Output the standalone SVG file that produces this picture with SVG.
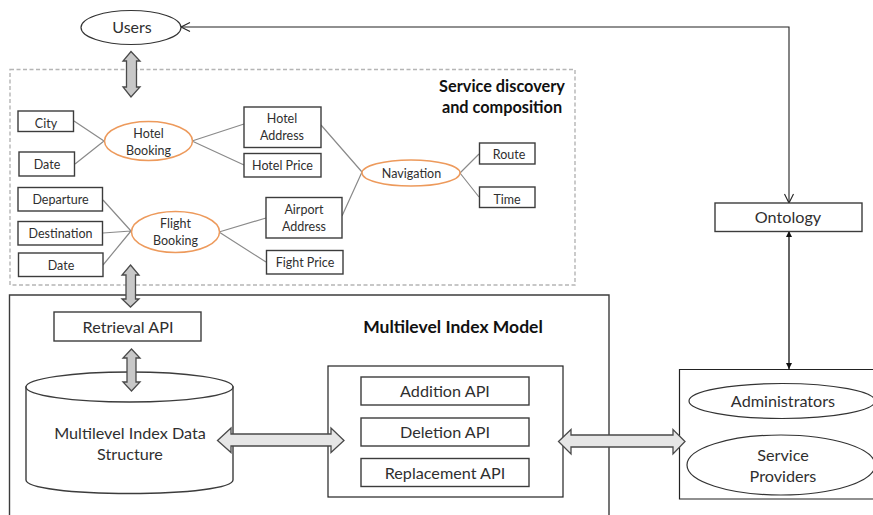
<svg xmlns="http://www.w3.org/2000/svg" width="873" height="515" viewBox="0 0 873 515">
<defs>
<style>
text{font-family:"Lato","Open Sans","Liberation Sans",sans-serif;fill:#2f2f2f;text-anchor:middle}
.s{font-size:12.5px}
.m{font-size:16.2px}
.b{font-size:16.300px;font-weight:700;fill:#111}
.box{fill:#fff;stroke:#3c3c3c;stroke-width:1.4}
.thin{fill:#fff;stroke:#333;stroke-width:1.2}
.or{fill:#fff;stroke:#ed9a5c;stroke-width:1.5}
.ln{stroke:#8a8a8a;stroke-width:1.2;fill:none}
.dark{stroke:#222;stroke-width:1.1;fill:none}
.ga{fill:#c8c8c8;stroke:#4a4a4a;stroke-width:1.3;stroke-linejoin:miter}
.ha{fill:#e6e6e6;stroke:#4a4a4a;stroke-width:1.3}
</style>
<marker id="open" markerWidth="12" markerHeight="12" refX="10" refY="5" orient="auto-start-reverse" markerUnits="userSpaceOnUse"><path d="M1,0.5 L10,5 L1,9.500" fill="none" stroke="#222" stroke-width="1.1"/></marker>
<marker id="solid" markerWidth="8" markerHeight="8" refX="6" refY="3" orient="auto-start-reverse" markerUnits="userSpaceOnUse"><path d="M0,0 L6,3 L0,6 Z" fill="#111"/></marker>
</defs>
<rect width="873" height="515" fill="#fff"/>

<g id="service-discovery">
<rect x="10" y="69.500" width="565" height="215.500" fill="#fff" stroke="#b5b5b5" stroke-width="1.4" stroke-dasharray="4 2.500"/>
<text class="b"><tspan x="502" y="91.500">Service discovery</tspan><tspan x="502" y="112.500">and composition</tspan></text>
</g>

<g id="multilevel-index-model">
<path d="M9.500,520 V295 H609 V520" fill="#fff" stroke="#3c3c3c" stroke-width="1.4"/>
<text class="b" x="453" y="333" style="font-size:17.500px">Multilevel Index Model</text>
</g>

<g id="connectors">
<path class="ln" d="M74,121 L104,141 M75,164 L104,141 M192,141 L244,124 M192,141 L244,165 M103,200 L131,231 M103,233 L131,231 M103,265 L131,231 M219,232 L266,218 M219,232 L266,262 M321,125 L362,172 M342,216 L362,172 M460,173 L479,154 M460,173 L479,197"/>
<path class="dark" d="M789,203 V27 H181" marker-start="url(#open)" marker-end="url(#open)"/>
<path d="M789,231 V369" fill="none" stroke="#111" stroke-width="1.3" marker-start="url(#solid)" marker-end="url(#solid)"/>
</g>

<g id="users"><ellipse class="thin" cx="131" cy="27.500" rx="50" ry="17"/><text x="132" y="32.500" font-size="16">Users</text></g>
<g id="city"><rect class="box" x="18" y="111" width="55.500" height="20.500"/><text class="s" x="46" y="128">City</text></g>
<g id="date-hotel"><rect class="box" x="19" y="152" width="55.500" height="24"/><text class="s" x="47" y="169">Date</text></g>
<g id="hotel-booking"><ellipse class="or" cx="148.500" cy="141" rx="44" ry="19.500"/><text class="s"><tspan x="148.500" y="138">Hotel</tspan><tspan x="148.500" y="155">Booking</tspan></text></g>
<g id="hotel-address"><rect class="box" x="244" y="107" width="77" height="40.500"/><text class="s"><tspan x="282" y="123">Hotel</tspan><tspan x="282" y="140">Address</tspan></text></g>
<g id="hotel-price"><rect class="box" x="244" y="153.500" width="77" height="23.500"/><text class="s" x="282.500" y="170">Hotel Price</text></g>
<g id="departure"><rect class="box" x="18" y="187.500" width="84.500" height="23.500"/><text class="s" x="60.500" y="204">Departure</text></g>
<g id="destination"><rect class="box" x="18" y="221.500" width="84.500" height="23.500"/><text class="s" x="60.500" y="238">Destination</text></g>
<g id="date-flight"><rect class="box" x="18.500" y="253" width="84.500" height="23.500"/><text class="s" x="61" y="270">Date</text></g>
<g id="flight-booking"><ellipse class="or" cx="175.500" cy="232" rx="44" ry="20.500"/><text class="s"><tspan x="175.500" y="228">Flight</tspan><tspan x="175.500" y="245">Booking</tspan></text></g>
<g id="airport-address"><rect class="box" x="266" y="197.500" width="76" height="40.500"/><text class="s"><tspan x="304" y="214">Airport</tspan><tspan x="304" y="231">Address</tspan></text></g>
<g id="fight-price"><rect class="box" x="266.500" y="250.500" width="76.500" height="23.500"/><text class="s" x="305" y="267">Fight Price</text></g>
<g id="navigation"><ellipse class="or" cx="411" cy="173" rx="49" ry="13"/><text class="s" x="411.500" y="178">Navigation</text></g>
<g id="route"><rect class="box" x="479.500" y="143" width="55.500" height="21"/><text class="s" x="509" y="159">Route</text></g>
<g id="time"><rect class="box" x="479.500" y="187" width="55.500" height="20.500"/><text class="s" x="507" y="204">Time</text></g>

<g id="retrieval-api"><rect class="box" x="54" y="312" width="147" height="29"/><text class="m" x="128" y="332.500">Retrieval API</text></g>
<g id="data-structure">
<path d="M26,387 V480 C26,488 72,493.500 129.500,493.500 C187,493.500 233,488 233,480 V387 Z" class="box"/>
<ellipse class="box" cx="129.500" cy="387" rx="103.500" ry="15"/>
<text class="m"><tspan x="130" y="439">Multilevel Index Data</tspan><tspan x="130" y="460">Structure</tspan></text>
</g>
<g id="api-group">
<rect x="328" y="366" width="235" height="131" fill="#fff" stroke="#222" stroke-width="1.2"/>
<g id="addition-api"><rect class="box" x="361" y="377" width="168" height="28"/><text class="m" x="445" y="397">Addition API</text></g>
<g id="deletion-api"><rect class="box" x="361" y="418" width="168" height="28"/><text class="m" x="445" y="438">Deletion API</text></g>
<g id="replacement-api"><rect class="box" x="361" y="458.500" width="168" height="28"/><text class="m" x="445" y="478.500">Replacement API</text></g>
</g>
<g id="ontology"><rect class="box" x="715" y="203" width="147" height="28.500"/><text class="m" x="788" y="223">Ontology</text></g>
<g id="stakeholders">
<path d="M880,369.500 H679.500 V499 H880" fill="#fff" stroke="#222" stroke-width="1.2"/>
<g id="administrators"><ellipse class="thin" cx="782" cy="401" rx="93" ry="17.500"/><text class="m" x="783" y="407">Administrators</text></g>
<g id="service-providers"><ellipse class="thin" cx="781" cy="465" rx="94" ry="30"/><text class="m"><tspan x="783" y="461">Service</tspan><tspan x="783" y="482">Providers</tspan></text></g>
</g>

<g id="block-arrows">
<path class="ga" d="M131,51.500 L140,61 H136.500 V87 H140 L131,97 L123,87 H126.500 V61 H123 Z"/>
<path class="ga" d="M130.500,265 L139,275 H135.500 V299 H139 L130.500,307 L122,299 H126 V275 H122 Z"/>
<path class="ga" d="M131.500,349 L140,358 H136 V382 H140 L131.500,391 L123,382 H127 V358 H123 Z"/>
<path class="ha" d="M217.500,440.500 L231,428 V434 H331 V428 L344,440.500 L331,452.500 V446 H231 V452.500 Z"/>
<path class="ha" d="M558.500,441.500 L571,429.500 V435 H673 V429.500 L685,441.500 L673,454 V447 H571 V454 Z"/>
</g>
</svg>
